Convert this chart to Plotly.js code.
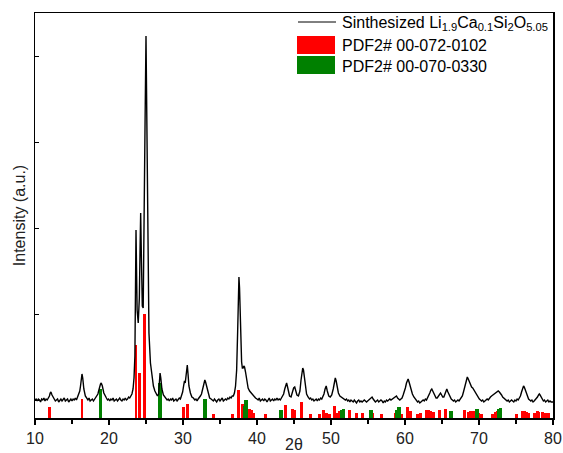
<!DOCTYPE html>
<html>
<head>
<meta charset="utf-8">
<script src="https://cdn.plot.ly/plotly-3.0.1.min.js"></script>
<style>html,body{margin:0;padding:0;background:#fff;}#chart{width:563px;height:453px;}</style>
</head>
<body>
<div id="chart"></div>
<script>
const pattern = [
[10.0,18],[10.15,19],[10.3,17],[10.45,19],[10.6,18],[10.75,16],[10.9,19],[11.05,18],[11.2,20],[11.35,17],[11.5,19],[11.65,18],[11.8,20],[11.95,22],[12.05,25],[12.15,26],[12.3,23],[12.45,20],[12.6,19],[12.75,17],[12.9,18],[13.05,19],[13.2,16],[13.35,18],[13.5,19],[13.65,17],[13.8,18],[13.95,20],[14.1,17],[14.25,18],[14.4,19],[14.55,16],[14.7,18],[14.85,19],[15.0,17],[15.15,19],[15.3,18],[15.45,20],[15.6,18],[15.75,21],[15.9,23],[16.05,27],[16.15,32],[16.25,38],[16.35,44],[16.45,40],[16.6,29],[16.8,22],[17.0,19],[17.15,18],[17.3,20],[17.45,17],[17.6,18],[17.75,19],[17.9,17],[18.05,19],[18.2,20],[18.35,22],[18.5,24],[18.6,27],[18.7,31],[18.85,34],[18.95,35],[19.1,32],[19.3,25],[19.5,21],[19.65,20],[19.8,18],[19.95,19],[20.1,17],[20.25,19],[20.4,18],[20.55,20],[20.7,17],[20.85,18],[21.0,19],[21.15,17],[21.3,18],[21.45,20],[21.6,18],[21.75,17],[21.9,19],[22.05,18],[22.2,20],[22.35,18],[22.5,19],[22.65,21],[22.8,20],[22.95,22],[23.1,24],[23.25,29],[23.38,40],[23.5,62],[23.58,120],[23.65,188],[23.72,150],[23.8,108],[23.95,95],[24.1,120],[24.2,170],[24.28,205],[24.38,160],[24.5,112],[24.62,110],[24.75,180],[24.88,300],[25.0,382],[25.08,310],[25.15,230],[25.25,150],[25.4,85],[25.6,55],[25.8,40],[26.0,32],[26.2,27],[26.4,24],[26.55,22],[26.7,24],[26.8,32],[26.9,45],[27.0,40],[27.15,29],[27.35,23],[27.55,21],[27.7,20],[27.85,18],[28.0,19],[28.15,17],[28.3,19],[28.45,18],[28.6,20],[28.75,17],[28.9,18],[29.05,19],[29.2,17],[29.35,18],[29.5,20],[29.65,19],[29.8,22],[29.95,26],[30.1,33],[30.2,37],[30.3,35],[30.4,42],[30.5,52],[30.58,53],[30.68,44],[30.8,32],[31.0,25],[31.2,21],[31.4,20],[31.6,18],[31.75,19],[31.9,17],[32.05,19],[32.2,20],[32.35,22],[32.5,24],[32.65,29],[32.8,33],[32.95,38],[33.05,36],[33.2,31],[33.4,24],[33.6,20],[33.8,19],[33.95,18],[34.1,17],[34.25,19],[34.4,18],[34.55,16],[34.7,18],[34.85,19],[35.0,17],[35.15,18],[35.3,20],[35.45,17],[35.6,18],[35.75,19],[35.9,18],[36.05,20],[36.2,19],[36.35,21],[36.5,20],[36.65,22],[36.8,22],[36.95,25],[37.1,32],[37.25,48],[37.38,85],[37.48,125],[37.56,141],[37.64,130],[37.72,100],[37.82,68],[37.92,56],[38.02,50],[38.12,50],[38.22,52],[38.32,51],[38.45,46],[38.6,38],[38.8,30],[39.0,27],[39.2,25],[39.4,23],[39.6,22],[39.8,20],[40.0,19],[40.15,18],[40.3,20],[40.45,17],[40.6,18],[40.75,19],[40.9,17],[41.05,19],[41.2,18],[41.35,16],[41.5,18],[41.65,20],[41.8,17],[41.95,18],[42.1,19],[42.25,17],[42.4,19],[42.55,18],[42.7,20],[42.85,18],[43.0,19],[43.15,18],[43.3,20],[43.45,21],[43.6,24],[43.75,29],[43.9,34],[44.0,35],[44.1,32],[44.25,26],[44.4,22],[44.6,21],[44.8,26],[44.95,30],[45.1,31],[45.25,28],[45.4,23],[45.6,22],[45.8,27],[45.95,38],[46.08,47],[46.18,50],[46.28,48],[46.4,40],[46.55,30],[46.7,24],[46.9,21],[47.1,19],[47.25,20],[47.4,18],[47.55,19],[47.7,17],[47.85,18],[48.0,19],[48.15,17],[48.3,19],[48.45,18],[48.6,20],[48.75,19],[48.9,21],[49.05,24],[49.2,29],[49.35,32],[49.5,27],[49.7,22],[49.9,21],[50.1,23],[50.3,29],[50.45,37],[50.58,40],[50.7,37],[50.85,30],[51.0,25],[51.2,22],[51.4,21],[51.6,20],[51.8,19],[51.95,18],[52.1,19],[52.25,17],[52.4,18],[52.55,16],[52.7,18],[52.85,17],[53.0,16],[53.15,18],[53.3,17],[53.45,15],[53.6,17],[53.75,18],[53.9,16],[54.05,17],[54.2,16],[54.35,17],[54.5,18],[54.65,17],[54.8,16],[54.95,17],[55.1,18],[55.25,19],[55.4,20],[55.55,21],[55.7,19],[55.85,17],[56.0,16],[56.15,17],[56.3,18],[56.45,16],[56.6,17],[56.75,18],[56.9,17],[57.05,15],[57.2,17],[57.35,16],[57.5,18],[57.65,17],[57.8,18],[57.95,19],[58.1,18],[58.25,19],[58.4,20],[58.55,21],[58.7,22],[58.85,22],[59.0,20],[59.15,19],[59.3,18],[59.45,19],[59.6,20],[59.75,23],[59.9,26],[60.05,30],[60.2,35],[60.32,38],[60.42,39],[60.55,36],[60.7,31],[60.85,27],[61.0,24],[61.2,21],[61.4,19],[61.55,17],[61.7,16],[61.85,17],[62.0,15],[62.15,16],[62.3,17],[62.45,18],[62.6,17],[62.75,19],[62.9,18],[63.05,20],[63.2,22],[63.35,25],[63.5,28],[63.62,29],[63.75,27],[63.9,24],[64.05,21],[64.2,20],[64.35,20],[64.5,22],[64.65,24],[64.8,25],[64.95,23],[65.1,21],[65.25,21],[65.4,24],[65.55,28],[65.65,29],[65.8,26],[65.95,23],[66.1,21],[66.25,19],[66.4,18],[66.55,17],[66.7,18],[66.85,16],[67.0,17],[67.15,18],[67.3,17],[67.45,19],[67.6,20],[67.75,22],[67.9,26],[68.05,31],[68.2,37],[68.32,40],[68.42,41],[68.55,39],[68.7,36],[68.85,33],[69.0,31],[69.15,30],[69.3,28],[69.45,26],[69.6,24],[69.75,22],[69.9,21],[70.05,19],[70.2,18],[70.35,17],[70.5,18],[70.65,16],[70.8,17],[70.95,18],[71.1,19],[71.25,18],[71.4,20],[71.55,21],[71.7,22],[71.85,23],[72.0,24],[72.15,25],[72.3,26],[72.45,27],[72.6,27],[72.75,26],[72.9,25],[73.05,23],[73.2,21],[73.35,20],[73.5,19],[73.65,18],[73.8,17],[73.95,18],[74.1,16],[74.25,17],[74.4,18],[74.55,17],[74.7,16],[74.85,18],[75.0,17],[75.15,19],[75.3,18],[75.45,20],[75.6,22],[75.75,26],[75.9,30],[76.02,32],[76.12,31],[76.25,28],[76.4,24],[76.55,21],[76.7,19],[76.85,18],[77.0,17],[77.15,18],[77.3,16],[77.45,17],[77.6,18],[77.75,19],[77.9,21],[78.05,23],[78.15,24],[78.25,23],[78.4,21],[78.55,19],[78.7,17],[78.85,18],[79.0,16],[79.15,17],[79.3,18],[79.45,16],[79.6,17],[79.75,16],[79.9,16],[80.0,16]
];
const patternX = pattern.map(p => p[0]);
const patternY = pattern.map(p => p[1]);

// Reference pattern PDF2# 00-072-0102 (red sticks)
const pdf0102X = [12.0,16.35,23.65,24.15,24.75,30.1,30.6,33.1,34.15,36.7,37.5,38.05,39.05,39.25,39.55,41.15,43.9,44.8,45.1,45.95,47.2,48.5,49.0,49.4,49.8,50.5,50.85,51.1,51.55,52.45,53.5,54.3,55.6,56.85,58.75,59.55,60.4,60.75,61.75,62.15,62.85,63.15,63.4,63.9,64.6,65.5,68.1,68.55,68.8,69.3,69.9,70.35,71.85,72.25,72.5,75.05,75.85,76.1,76.4,76.75,77.55,77.9,78.1,78.6,79.0,79.45];
const pdf0102Y = [11,19,73,45,104,11,14,5,4,4,28,14,9,8,5,4,13,9,8,16,4,4,8,5,4,12,5,7,5,8,5,5,5,4,5,4,11,7,4,5,8,8,7,6,8,9,8,6,7,7,5,4,4,6,7,4,7,7,6,5,5,7,6,6,5,5];

// Reference pattern PDF2# 00-070-0330 (green sticks)
const pdf0330X = [18.85,26.9,33.0,38.3,38.5,43.2,51.45,51.7,55.4,58.9,59.15,66.2,69.7,72.7,72.9];
const pdf0330Y = [29,35,19,12,18,8,8,9,8,8,11,7,9,9,10];

const xTickStart = 10, xTickStep = 10;
const seriesNames = ['Sinthesized Li<sub>1.9</sub>Ca<sub>0.1</sub>Si<sub>2</sub>O<sub>5.05</sub>','PDF2# 00-072-0102','PDF2# 00-070-0330'];

const FONT = 'Liberation Sans, Arial, sans-serif';

const traces = [
  {type:'bar', x:pdf0102X, y:pdf0102Y, width:0.4, name:seriesNames[1], marker:{color:'#ff0000', line:{width:0}}, showlegend:false},
  {type:'bar', x:pdf0330X, y:pdf0330Y, width:0.5, name:seriesNames[2], marker:{color:'#008000', line:{width:0}}, showlegend:false},
  {type:'scatter', mode:'lines', x:patternX, y:patternY, name:seriesNames[0], line:{color:'#000000', width:1.4}, showlegend:false}
];

// legend drawn in paper coordinates
const L = 35, R = 553, T = 13, B = 418;
const px = v => (v - L) / (R - L);
const py = v => (B - v) / (B - T);

const layout = {
  width:563, height:453,
  margin:{l:35, r:10, t:13, b:35},
  paper_bgcolor:'#fff', plot_bgcolor:'#fff',
  barmode:'overlay', bargap:0,
  showlegend:false,
  font:{family:FONT, color:'#000', size:16},
  xaxis:{
    range:[10,80], tickmode:'linear', tick0:xTickStart, dtick:xTickStep,
    ticks:'outside', ticklen:5, tickwidth:1.2, tickcolor:'#000',
    minor:{dtick:5, tick0:10, ticks:'outside', ticklen:4, tickcolor:'#000'},
    showline:true, linecolor:'#000', linewidth:1.5, mirror:true,
    showgrid:false, zeroline:false,
    tickfont:{family:FONT, size:16, color:'#222'},
    title:{text:'2θ', font:{family:FONT, size:16, color:'#222'}, standoff:2}
  },
  yaxis:{
    range:[0,405], tickmode:'linear', tick0:18, dtick:86, showticklabels:false,
    ticks:'inside', ticklen:4, tickcolor:'#000',
    showline:true, linecolor:'#000', linewidth:1.5, mirror:true,
    showgrid:false, zeroline:false,
    title:{text:'Intensity (a.u.)', font:{family:FONT, size:16, color:'#222'}, standoff:4}
  },
  shapes:[
    {type:'line', xref:'paper', yref:'paper', x0:px(298), x1:px(336), y0:py(22), y1:py(22), line:{color:'#000', width:1}},
    {type:'rect', xref:'paper', yref:'paper', x0:px(297), x1:px(335), y0:py(54), y1:py(36), fillcolor:'#ff0000', line:{width:0}},
    {type:'rect', xref:'paper', yref:'paper', x0:px(297), x1:px(335), y0:py(74), y1:py(56), fillcolor:'#008000', line:{width:0}}
  ],
  annotations:[
    {xref:'paper', yref:'paper', x:px(340), y:py(24), xanchor:'left', yanchor:'middle', showarrow:false, text:seriesNames[0], font:{family:FONT, size:16, color:'#000'}},
    {xref:'paper', yref:'paper', x:px(340), y:py(45), xanchor:'left', yanchor:'middle', showarrow:false, text:seriesNames[1], font:{family:FONT, size:16, color:'#000'}},
    {xref:'paper', yref:'paper', x:px(340), y:py(66), xanchor:'left', yanchor:'middle', showarrow:false, text:seriesNames[2], font:{family:FONT, size:16, color:'#000'}}
  ]
};

Plotly.newPlot('chart', traces, layout, {staticPlot:true, displayModeBar:false});
</script>
</body>
</html>
